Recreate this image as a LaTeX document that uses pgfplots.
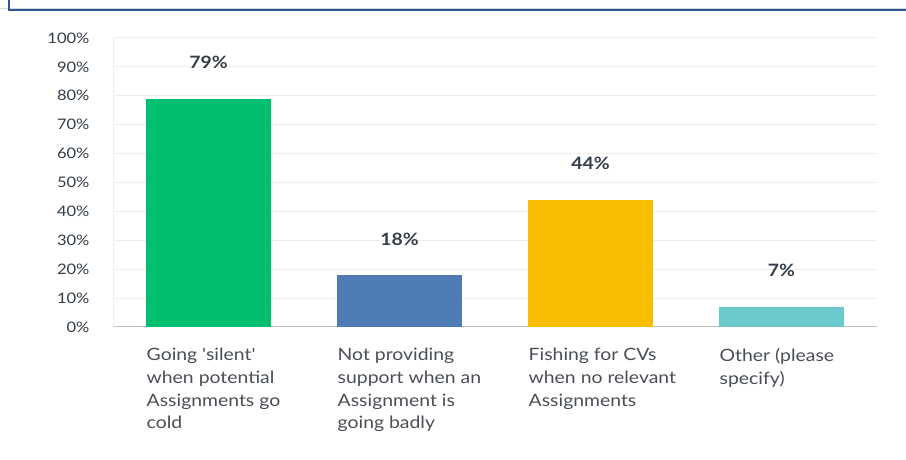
\documentclass[border=0pt]{standalone}
\usepackage{fontspec}
\setmainfont{Lato}[Ligatures=TeXOff, FakeStretch=1.14]
\usepackage{pgfplots}
\pgfplotsset{compat=1.18}
\definecolor{sgreen}{HTML}{00BF6F}
\definecolor{sblue}{HTML}{507CB6}
\definecolor{syellow}{HTML}{F9BE00}
\definecolor{steal}{HTML}{6BC8CD}
\definecolor{txt}{HTML}{333E48}
\definecolor{cattxt}{HTML}{4A4F55}
\definecolor{gridc}{HTML}{EDEDED}
\definecolor{framec}{HTML}{2F5597}
\begin{document}
\begin{tikzpicture}[x=1pt,y=1pt]
\path[use as bounding box, fill=white] (0,0) rectangle (906,460);
\draw[color=black!15, line width=1pt] (0,451.5) -- (906,451.5);
\draw[color=framec, line width=2pt] (8.5,460) -- (8.5,449.5) -- (906,449.5);
\begin{axis}[
  at={(113pt,133pt)}, anchor=south west,
  width=764pt, height=289pt, scale only axis,
  ybar, bar width=125pt,
  xmin=-0.5, xmax=3.5, ymin=0, ymax=100,
  xtick={0,1,2,3},
  xticklabels={{Going 'silent'\\when potential\\Assignments go\\cold},
               {Not providing\\support when an\\Assignment is\\going badly},
               {Fishing for CVs\\when no relevant\\Assignments},
               {Other (please\\specify)}},
  ytick={0,10,...,100},
  yticklabel={\pgfmathprintnumber{\tick}\%},
  /pgf/number format/assume math mode=true,
  major tick length=0pt,
  ymajorgrids, grid style={color=gridc, line width=1pt},
  axis x line*=bottom, axis y line*=left,
  x axis line style={color=black!25, line width=1pt, -},
  y axis line style={color=gridc, line width=1pt, -},
  yticklabel style={anchor=east, xshift=-20pt, font=\fontsize{14.5}{16}\selectfont, color=txt},
  xticklabel style={anchor=north west, align=left, inner sep=0pt, xshift=-62pt, yshift=-21pt,
     font=\fontsize{17}{22.7}\selectfont, color=cattxt},
  nodes near coords={\pgfmathprintnumber[fixed,precision=0]{\pgfplotspointmeta}\%},
  nodes near coords style={anchor=center, yshift=36pt, font=\bfseries\fontsize{17}{20}\selectfont, color=txt},
]
\addplot[fill=sgreen, draw=none, bar shift=0pt] coordinates {(0,79)};
\addplot[fill=sblue, draw=none, bar shift=0pt] coordinates {(1,18)};
\addplot[fill=syellow, draw=none, bar shift=0pt] coordinates {(2,44)};
\addplot[fill=steal, draw=none, bar shift=0pt] coordinates {(3,7)};
\end{axis}
\end{tikzpicture}
\end{document}
